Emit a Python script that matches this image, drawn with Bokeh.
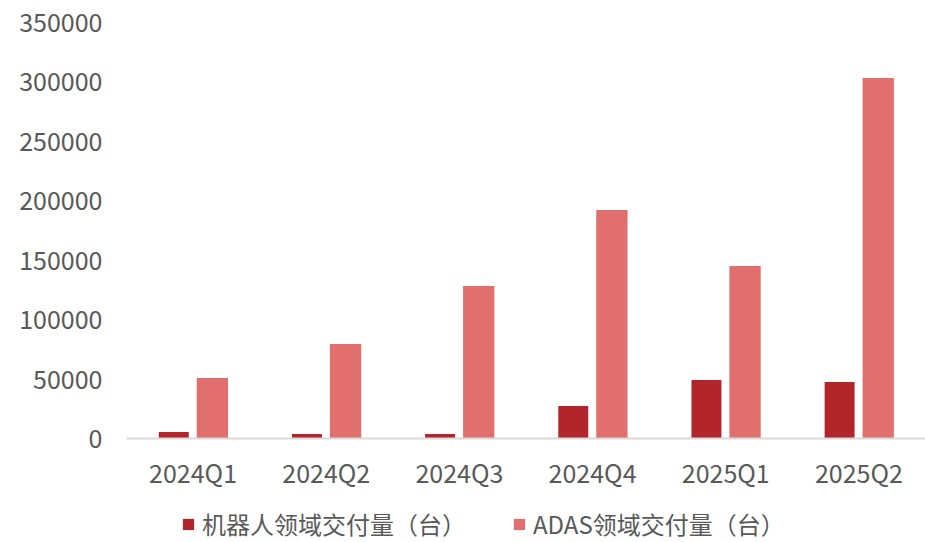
from bokeh.plotting import figure
from bokeh.layouts import column
from bokeh.models import ColumnDataSource, FactorRange, Range1d, Legend, LegendItem, NumeralTickFormatter, FixedTicker
from bokeh.transform import dodge
from bokeh.embed import file_html
from bokeh.resources import INLINE

quarters = ["2024Q1", "2024Q2", "2024Q3", "2024Q4", "2025Q1", "2025Q2"]
robot = [5500, 3800, 3800, 27300, 49200, 47500]
adas = [50900, 79500, 128300, 192200, 145100, 303300]
y_ticks = [0, 50000, 100000, 150000, 200000, 250000, 300000, 350000]
series_names = ["机器人领域交付量（台）", "ADAS领域交付量（台）"]

DARK = "#B2252A"
LIGHT = "#E06F6E"
TEXT = "#595959"
FONT = "Noto Sans CJK SC"

src = ColumnDataSource(dict(q=quarters, robot=robot, adas=adas))

p = figure(
    x_range=FactorRange(*quarters, start=0, end=5.95),
    y_range=Range1d(0, 350000),
    width=925, height=505,
    output_backend="svg", toolbar_location=None,
    min_border_left=126, min_border_right=0, min_border_top=22, min_border_bottom=67,
    background_fill_color="white", border_fill_color="white",
)
p.outline_line_color = None
p.grid.grid_line_color = None

r1 = p.vbar(x=dodge("q", -0.145, range=p.x_range), top="robot", width=0.225,
            source=src, fill_color=DARK, line_color=None)
r2 = p.vbar(x=dodge("q", 0.145, range=p.x_range), top="adas", width=0.235,
            source=src, fill_color=LIGHT, line_color=None)

ya = p.yaxis[0]
ya.ticker = FixedTicker(ticks=y_ticks)
ya.formatter = NumeralTickFormatter(format="0")
ya.axis_line_color = None
ya.major_tick_line_color = None
ya.minor_tick_line_color = None
ya.major_tick_out = 0
ya.major_label_standoff = 24
ya.major_label_text_font = FONT
ya.major_label_text_font_size = "25px"
ya.major_label_text_color = TEXT

xa = p.xaxis[0]
xa.axis_line_color = "#D9D9D9"
xa.axis_line_width = 2
xa.major_tick_line_color = None
xa.minor_tick_line_color = None
xa.major_tick_out = 0
xa.major_label_standoff = 15
xa.major_label_text_font = FONT
xa.major_label_text_font_size = "25px"
xa.major_label_text_color = TEXT

# legend strip below the chart (swatch renderers sit outside the visible range)
lg = figure(
    width=925, height=37, x_range=Range1d(0, 1), y_range=Range1d(0, 1),
    output_backend="svg", toolbar_location=None,
    min_border_left=0, min_border_right=0, min_border_top=0, min_border_bottom=0,
    background_fill_color="white", border_fill_color="white",
)
lg.outline_line_color = None
lg.grid.grid_line_color = None
lg.axis.visible = False
swatch = ColumnDataSource(dict(x=[5], top=[0]))
l1 = lg.vbar(x="x", top="top", width=0.1, source=swatch, fill_color=DARK, line_color=None)
l2 = lg.vbar(x="x", top="top", width=0.1, source=swatch, fill_color=LIGHT, line_color=None)

legend = Legend(
    items=[LegendItem(label=series_names[0], renderers=[l1]),
           LegendItem(label=series_names[1], renderers=[l2])],
    orientation="horizontal", location=(55, 1),
    label_text_font=FONT, label_text_font_size="24px", label_text_color=TEXT,
    glyph_width=14, glyph_height=14, label_standoff=7, spacing=46,
    border_line_color=None, background_fill_alpha=0, padding=0, margin=0,
)
lg.add_layout(legend, "center")

layout = column(p, lg, spacing=0)
open("out.html", "w").write(file_html(layout, INLINE))
